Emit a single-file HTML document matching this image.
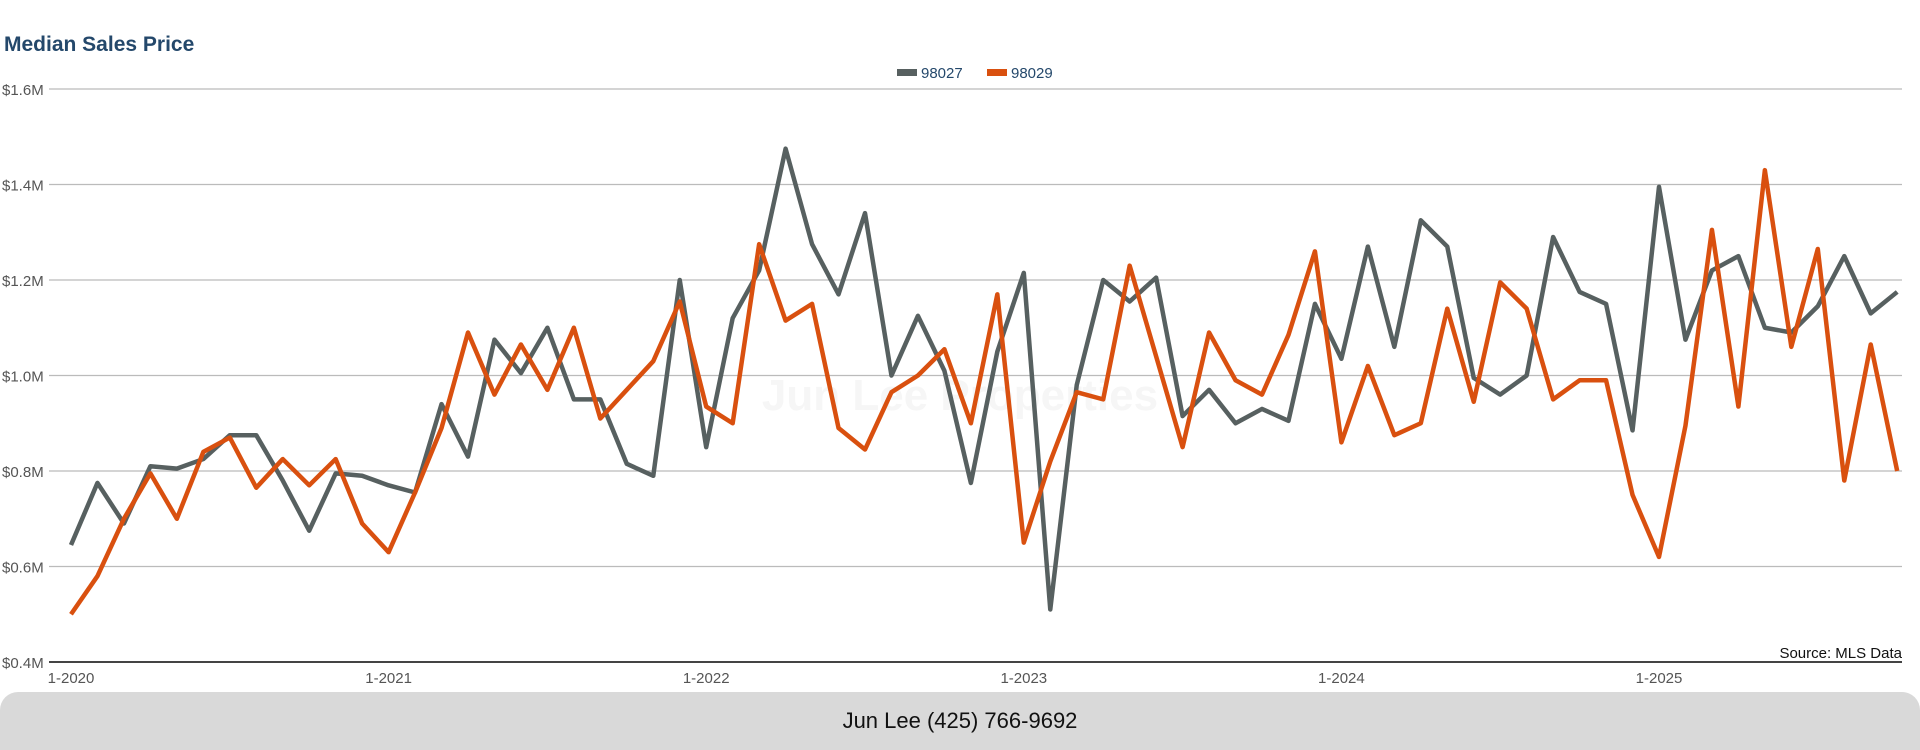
<!DOCTYPE html>
<html><head><meta charset="utf-8"><style>
body{margin:0;width:1920px;height:750px;background:#fff;font-family:"Liberation Sans",sans-serif;overflow:hidden;position:relative}
#title{position:absolute;left:4px;top:33px;font-size:21px;font-weight:bold;color:#24486b}
#footer{position:absolute;left:0;top:692px;width:1920px;height:58px;background:#d9d9d9;border-radius:18px 18px 0 0;text-align:center;line-height:58px;font-size:22px;color:#111}
</style></head><body>
<div id="title">Median Sales Price</div>
<svg id="chart" width="1920" height="692" style="position:absolute;left:0;top:0"></svg>
<div id="footer">Jun Lee (425) 766-9692</div>
<script>
const yTicks=[0.4,0.6,0.8,1.0,1.2,1.4,1.6];
const yTickLabels=["$0.4M","$0.6M","$0.8M","$1.0M","$1.2M","$1.4M","$1.6M"];
const xTickMonths=[0,12,24,36,48,60];
const xTickLabels=["1-2020","1-2021","1-2022","1-2023","1-2024","1-2025"];
const s98027=[0.645,0.775,0.69,0.81,0.805,0.825,0.875,0.875,0.78,0.675,0.795,0.79,0.77,0.755,0.94,0.83,1.075,1.005,1.10,0.95,0.95,0.815,0.79,1.20,0.85,1.12,1.22,1.475,1.275,1.17,1.34,1.00,1.125,1.01,0.775,1.05,1.215,0.51,0.98,1.20,1.155,1.205,0.915,0.97,0.90,0.93,0.905,1.15,1.035,1.27,1.06,1.325,1.27,0.995,0.96,1.00,1.29,1.175,1.15,0.885,1.395,1.075,1.22,1.25,1.10,1.09,1.145,1.25,1.13,1.175];
const s98029=[0.50,0.58,0.70,0.795,0.70,0.84,0.87,0.765,0.825,0.77,0.825,0.69,0.63,0.755,0.89,1.09,0.96,1.065,0.97,1.10,0.91,0.97,1.03,1.155,0.935,0.90,1.275,1.115,1.15,0.89,0.845,0.965,1.00,1.055,0.90,1.17,0.65,0.82,0.965,0.95,1.23,1.04,0.85,1.09,0.99,0.96,1.085,1.26,0.86,1.02,0.875,0.90,1.14,0.945,1.195,1.14,0.95,0.99,0.99,0.75,0.62,0.895,1.305,0.935,1.43,1.06,1.265,0.78,1.065,0.80];
const seriesNames=["98027","98029"];
const colors=["#576060","#d9500f"];
const NS="http://www.w3.org/2000/svg";
const svg=document.getElementById('chart');
const x=m=>71+m*(1659-71)/60;
const y=v=>662-(v-0.4)*(662-89)/1.2;
function mk(t,a){const e=document.createElementNS(NS,t);for(const k in a)e.setAttribute(k,a[k]);svg.appendChild(e);return e;}
yTicks.forEach((v,i)=>{
  const l=mk('line',{x1:49,x2:1902,y1:y(v),y2:y(v),stroke:i==0?'#444':'#bbb','stroke-width':i==0?2:1.3});
  
  
  const t=mk('text',{x:2,y:y(v)+6,'font-size':15,fill:'#555'});
  t.textContent=yTickLabels[i];
  
  
});
xTickMonths.forEach((m,i)=>{
  const t=mk('text',{x:x(m),y:683,'font-size':15,fill:'#555','text-anchor':'middle'});
  t.textContent=xTickLabels[i];
  
  
});
const wm=mk('text',{x:960,y:410,'font-size':44,fill:'#f6f6f6','text-anchor':'middle','font-weight':'bold'});
wm.textContent="Jun Lee Properties";


[s98027,s98029].forEach((s,k)=>{
  const p=mk('polyline',{points:s.map((v,i)=>x(i)+','+y(v)).join(' '),fill:'none',stroke:colors[k],'stroke-width':4.5,'stroke-linejoin':'round'});
  
  
});
const lx=[897,987];
seriesNames.forEach((n,k)=>{
  const r=mk('rect',{x:lx[k],y:69,width:20,height:7,fill:colors[k]});
  
  
  const t=mk('text',{x:lx[k]+24,y:78,'font-size':15,fill:'#24486b'});
  t.textContent=n;
  
  
});
const src=mk('text',{x:1902,y:658,'font-size':15,fill:'#111','text-anchor':'end'});
src.textContent="Source: MLS Data";


</script>
</body></html>
